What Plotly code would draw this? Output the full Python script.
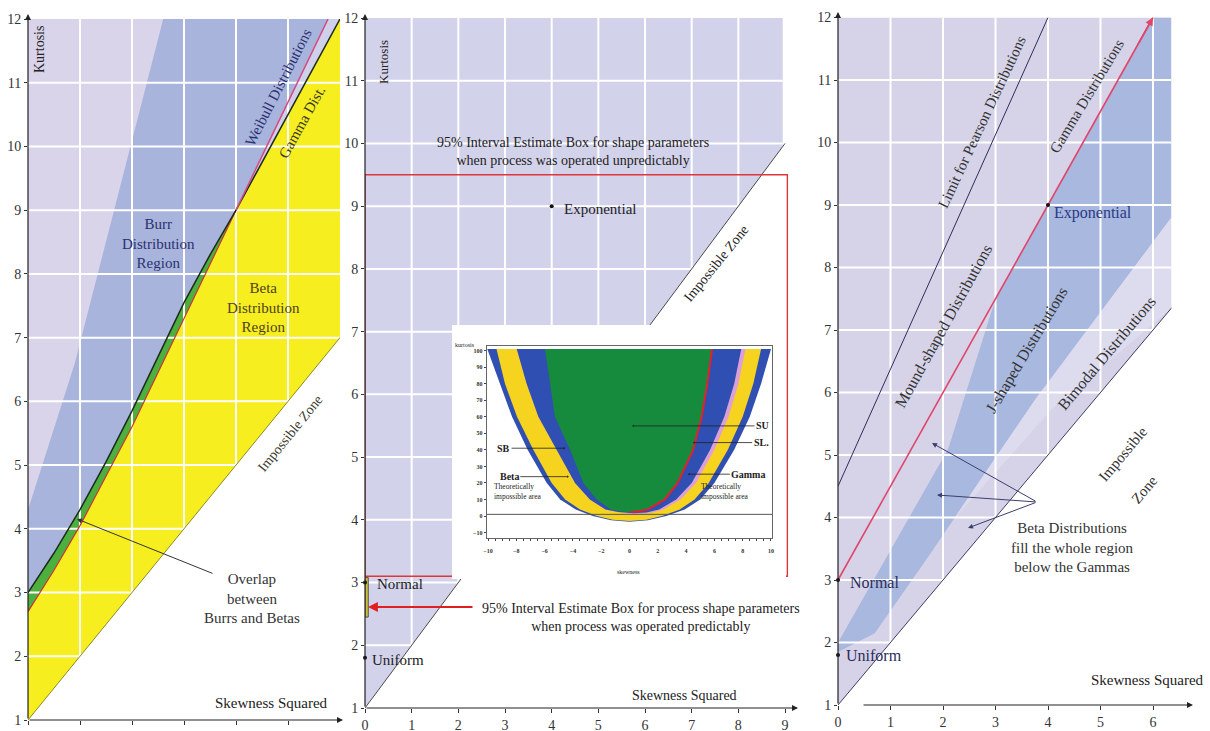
import plotly.graph_objects as go

W, H = 1210, 731
SERIF = "Liberation Serif"


def fx(p):
    return p / W


def fy(p):
    return 1 - p / H


# ----------------------------------------------------------------- data --
kurtosis_ticks = list(range(1, 13))
left_b_ticks = [0, 1, 2, 3, 4, 5]
mid_b_ticks = list(range(0, 10))
right_b_ticks = list(range(0, 7))
grid_k = list(range(2, 12))
left_grid_b = [1, 2, 3, 4, 5]
mid_grid_b = [1, 2, 3, 4, 5, 6, 7, 8]
right_grid_b = [1, 2, 3, 4, 5, 6]

impossible_b = [0, 9.0]
impossible_k = [1, 10.0]
gamma_b = [0, 6]
gamma_k = [3, 12]

# left panel : Burr / Beta regions
burr_edge_b = [0, 0.5, 1.0, 1.5, 2.0, 2.5, 3.0, 3.5, 4.0, 6.0]
burr_edge_k = [3.0, 3.62, 4.3, 5.05, 5.85, 6.7, 7.55, 8.3, 9.0, 12.0]
beta_edge_b = [0, 0.5, 1.0, 2.0, 3.0, 4.0]
beta_edge_k = [2.7, 3.35, 4.05, 5.6, 7.3, 9.0]
weibull_b = [4.0, 5.77]
weibull_k = [9.0, 12.0]
burr_light_b = [0, 0.9, 2.6]
burr_light_k = [4.3, 6.6, 12.0]

# middle panel
mid_bg_b = [0, 8.95, 8.95, 0]
mid_bg_k = [1, 9.95, 12, 12]
unpred_box_b = [0, 9.05]
unpred_box_k = [3.1, 9.5]
pred_box_b = [0, 0.07]
pred_box_k = [2.45, 3.08]
named_b = [0, 0, 4]
named_k = [3, 1.8, 9]

# right panel
right_bg_b = [0, 6.35, 6.35, 0]
right_bg_k = [1, 7.35, 12, 12]
jband_b = [0, 2.1, 3.0, 6.0, 6.35, 6.35, 3.75, 1.66, 0.7, 0]
jband_k = [2.0, 5.1, 7.5, 12, 12, 8.8, 5.88, 3.3, 2.15, 1.85]
strip_b = [6.35, 3.75, 2.2, 4.06, 6.35]
strip_k = [8.8, 5.88, 3.97, 5.72, 7.35]
pearson_b = [0, 4.0]
pearson_k = [4.5, 12]

# inset (skewness vs kurtosis)
inset_k = [101, 80, 60, 40, 20, 10, 4]
outer_L = [-10.05, -9.15, -8.3, -7.2, -5.85, -4.9, -3.8]
yellow_L = [-9.4, -8.8, -7.95, -6.8, -5.5, -4.55, -3.5]
sb_L = [-7.97, -7.27, -6.44, -5.15, -3.85, -2.8, -1.7]
green_L = [-5.97, -5.62, -5.27, -4.2, -3.26, -2.32, -1.3]
outer_R = [10.0, 9.3, 8.5, 7.4, 6.0, 5.0, 3.9]
yellow_R = [9.3, 8.75, 8.0, 6.95, 5.6, 4.6, 3.55]
pink_R = [8.2, 7.7, 7.0, 6.0, 4.7, 3.6, 2.4]
sl_R = [7.9, 7.4, 6.7, 5.7, 4.4, 3.3, 2.1]
red_R = [5.83, 5.5, 5.1, 4.5, 3.4, 2.5, 1.3]
outer_bot_s = [-2.6, -1.3, 0, 1.3, 2.6]
outer_bot_k = [0, -2.6, -3.5, -2.6, 0]
yellow_bot_s = [-2.3, -1.2, 0, 1.2, 2.3]
yellow_bot_k = [0, -2.2, -3.0, -2.2, 0]
pink_bot_s = [-0.8, 0.3, 1.4]
pink_bot_k = [2.2, 1.1, 1.6]
sb_bot_s = [-0.8, 0.3, 1.2]
sb_bot_k = [2.4, 1.7, 2.1]
green_bot_s = [-0.6, 0, 0.6]
green_bot_k = [2.7, 2.4, 2.7]
inset_s_ticks = list(range(-10, 11, 2))
inset_k_ticks = list(range(-10, 101, 10))

# ------------------------------------------------------------- layout geo --
L_DOM_X = [fx(28), fx(340)]
L_DOM_Y = [fy(720), fy(19)]
M_X0, M_PX = 365, 46.67
M_DOM_X = [fx(M_X0), fx(M_X0 + 9.1 * M_PX)]
M_Y1, M_PY = 708, 690 / 11
M_DOM_Y = [fy(708), fy(18)]
R_DOM_X = [fx(838), fx(838 + 6.35 * 52.5)]
R_DOM_Y = [fy(705), fy(17.5)]
I_DOM_X = [fx(486.6), fx(772.4)]
I_DOM_Y = [fy(537.5), fy(345.7)]


def mid_x(p):
    return (p - M_X0) / M_PX


def mid_y(p):
    return 1 + (M_Y1 - p) / M_PY


fig = go.Figure()


def poly(xs, ys, color, xa, ya):
    fig.add_trace(go.Scatter(x=list(xs) + [xs[0]], y=list(ys) + [ys[0]], mode="lines",
                             fill="toself", fillcolor=color, line=dict(width=0, color=color),
                             hoverinfo="skip", xaxis=xa, yaxis=ya))


def line(xs, ys, color, width, xa, ya):
    fig.add_trace(go.Scatter(x=xs, y=ys, mode="lines", line=dict(color=color, width=width),
                             hoverinfo="skip", xaxis=xa, yaxis=ya, cliponaxis=True))


def grid(bv, kv, brange, krange, xa, ya):
    xs, ys = [], []
    for b in bv:
        xs += [b, b, None]
        ys += [krange[0], krange[1], None]
    for k in kv:
        xs += [brange[0], brange[1], None]
        ys += [k, k, None]
    line(xs, ys, "white", 2, xa, ya)


def dots(xs, ys, xa, ya, color="#111", size=4):
    fig.add_trace(go.Scatter(x=xs, y=ys, mode="markers", marker=dict(color=color, size=size),
                             hoverinfo="skip", xaxis=xa, yaxis=ya, cliponaxis=False))


# ---------------- left panel
n4 = burr_edge_b.index(4.0) + 1
poly(burr_edge_b[:n4] + weibull_b[1:] + [0], burr_edge_k[:n4] + weibull_k[1:] + [12], "#a8b4dc", "x", "y")
poly(burr_light_b + [0], burr_light_k + [12], "#d9d4ea", "x", "y")
poly(weibull_b + [gamma_b[1]], weibull_k + [gamma_k[1]], "#cfd0ea", "x", "y")
poly([impossible_b[0], 6.0, gamma_b[1], burr_edge_b[n4 - 1]] + beta_edge_b[::-1][1:],
     [impossible_k[0], 7.0, gamma_k[1], burr_edge_k[n4 - 1]] + beta_edge_k[::-1][1:], "#f6ee1e", "x", "y")
poly(burr_edge_b[:n4] + beta_edge_b[::-1][1:], burr_edge_k[:n4] + beta_edge_k[::-1][1:], "#4caf3e", "x", "y")
grid(left_grid_b, grid_k, [0, 6], [1, 12], "x", "y")
line(impossible_b, impossible_k, "#8c8a2a", 1, "x", "y")
line(beta_edge_b, beta_edge_k, "#c8363a", 1.2, "x", "y")
line(burr_edge_b, burr_edge_k, "#1d2a1d", 1.5, "x", "y")
line(weibull_b, weibull_k, "#d44a80", 1.5, "x", "y")

# ---------------- middle panel
poly(mid_bg_b, mid_bg_k, "#d3d2eb", "x2", "y2")
grid(mid_grid_b, grid_k, [0, 8.95], [1, 12], "x2", "y2")
line(impossible_b, impossible_k, "#4a4a4a", 1, "x2", "y2")
line([unpred_box_b[0], unpred_box_b[1], unpred_box_b[1], unpred_box_b[0], unpred_box_b[0]],
     [unpred_box_k[0], unpred_box_k[0], unpred_box_k[1], unpred_box_k[1], unpred_box_k[0]],
     "#e0353a", 1.4, "x2", "y2")
# white backing card for the inset
bx0, bx1, by0, by1 = mid_x(452), mid_x(786), mid_y(579), mid_y(325)
poly([bx0, bx1, bx1, bx0], [by0, by0, by1, by1], "white", "x2", "y2")
fig.add_trace(go.Scatter(x=[pred_box_b[0], pred_box_b[1], pred_box_b[1], pred_box_b[0], pred_box_b[0]],
                         y=[pred_box_k[0], pred_box_k[0], pred_box_k[1], pred_box_k[1], pred_box_k[0]],
                         mode="lines", fill="toself", fillcolor="#c9c23c",
                         line=dict(color="#555", width=1), hoverinfo="skip",
                         xaxis="x2", yaxis="y2"))
dots(named_b, named_k, "x2", "y2")

# ---------------- right panel
poly(right_bg_b, right_bg_k, "#d6d3e9", "x3", "y3")
poly(jband_b, jband_k, "#a9b8df", "x3", "y3")
poly(strip_b, strip_k, "#dddbee", "x3", "y3")
grid(right_grid_b, grid_k, [0, 6.35], [1, 12], "x3", "y3")
line(impossible_b, impossible_k, "#3e3e60", 1, "x3", "y3")
line(pearson_b, pearson_k, "#2d2d5a", 1, "x3", "y3")
line(gamma_b, gamma_k, "#e0456a", 1.6, "x3", "y3")
dots(named_b, named_k, "x3", "y3")


# ---------------- inset
def u_shape(left, bot_s, bot_k, right, color):
    xs = left + bot_s + right[::-1]
    ys = inset_k + bot_k + inset_k[::-1]
    poly(xs, ys, color, "x4", "y4")


u_shape(outer_L, outer_bot_s, outer_bot_k, outer_R, "#2f4fb2")
u_shape(yellow_L, yellow_bot_s, yellow_bot_k, yellow_R, "#f5d31e")
u_shape(sb_L, pink_bot_s, pink_bot_k, pink_R, "#dc9fd8")
u_shape(sb_L, sb_bot_s, sb_bot_k, sl_R, "#2f4fb2")
u_shape(green_L, green_bot_s, green_bot_k, red_R, "#168b3e")
line(red_R + [0.6, 0.1], inset_k + [2.7, 2.45], "#e3202c", 2, "x4", "y4")
line([-10.1, 10.1], [1, 1], "#555", 1, "x4", "y4")

# ------------------------------------------------------------- axes ------
tickfont = dict(family=SERIF, size=14, color="#333")


def main_x(domain, rng, ticks, anchor):
    return dict(domain=domain, range=rng, anchor=anchor, showgrid=False, zeroline=False,
                showline=False, ticks="outside", ticklen=4, tickcolor="#333",
                tickvals=ticks, ticktext=[str(t) for t in ticks], tickfont=tickfont,
                fixedrange=True, automargin=False)


def main_y(domain, anchor):
    return dict(domain=domain, range=[1, 12], anchor=anchor, showgrid=False, zeroline=False,
                showline=False, ticks="outside", ticklen=3, tickcolor="#333",
                tickvals=kurtosis_ticks, ticktext=[str(t) for t in kurtosis_ticks],
                tickfont=tickfont, fixedrange=True, automargin=False)


small = dict(family=SERIF, size=6, color="#333", weight="bold")

fig.update_layout(
    template="none",
    width=W, height=H, autosize=False, margin=dict(l=0, r=0, t=0, b=0, pad=0),
    paper_bgcolor="white", plot_bgcolor="white", showlegend=False,
    xaxis=main_x(L_DOM_X, [0, 6], left_b_ticks, "y"),
    yaxis=main_y(L_DOM_Y, "x"),
    xaxis2=main_x(M_DOM_X, [0, 9.1], mid_b_ticks, "y2"),
    yaxis2=main_y(M_DOM_Y, "x2"),
    xaxis3=main_x(R_DOM_X, [0, 6.35], right_b_ticks, "y3"),
    yaxis3=main_y(R_DOM_Y, "x3"),
    xaxis4=dict(domain=I_DOM_X, range=[-10.1, 10.1], anchor="y4", showgrid=False,
                zeroline=False, showline=True, mirror=True, linecolor="#666", linewidth=1,
                ticks="outside", ticklen=2, tickcolor="#444", tickvals=inset_s_ticks,
                tickfont=small, ticklabelstandoff=5, automargin=False,
                minor=dict(tickmode="linear", tick0=-10, dtick=0.5, ticks="outside",
                           ticklen=2, tickcolor="#444"),
                fixedrange=True),
    yaxis4=dict(domain=I_DOM_Y, range=[-13, 103], anchor="x4", showgrid=False,
                zeroline=False, showline=True, mirror=True, linecolor="#666", linewidth=1,
                ticks="outside", ticklen=2, tickcolor="#444", tickvals=inset_k_ticks,
                tickfont=small, fixedrange=True, automargin=False),
)

# ------------------------------------------------------------- text -------
ann = []


def txt(x, y, s, size=15, color="#222", angle=0, xanchor="center", align="center"):
    ann.append(dict(xref="paper", yref="paper", x=fx(x), y=fy(y), text=s, showarrow=False,
                    font=dict(family=SERIF, size=size, color=color), textangle=angle,
                    xanchor=xanchor, yanchor="middle", align=align))


def arrow(hx, hy, tx, ty, color="#222", width=1.2, head=2, size=1.0):
    ann.append(dict(xref="paper", yref="paper", x=fx(hx), y=fy(hy), ax=tx - hx, ay=ty - hy,
                    axref="pixel", ayref="pixel", text="", showarrow=True, arrowhead=head,
                    arrowsize=size, arrowwidth=width, arrowcolor=color))


# axes arrows
arrow(28, 14, 28, 720)
arrow(343, 720, 28, 720)
arrow(365, 14, 365, 708)
arrow(798, 708, 365, 708)
arrow(838, 12, 838, 705)
arrow(1193, 705, 862, 705)

# left panel text
txt(40, 50, "Kurtosis", size=14, angle=-90)
txt(158, 243, "Burr<br>Distribution<br>Region", color="#2b3170")
txt(263, 308, "Beta<br>Distribution<br>Region", color="#4e4220")
txt(278, 88, "Weibull Distributions", color="#2b3170", angle=-63)
txt(302, 122, "Gamma Dist.", color="#3a3a2a", angle=-61)
txt(290, 433, "Impossible Zone", size=14, color="#3a3a2a", angle=-51)
txt(252, 598, "Overlap<br>between<br>Burrs and Betas", color="#333")
arrow(77, 519, 214, 574, color="#333", width=1)
txt(271, 703, "Skewness Squared")

# middle panel text
txt(383, 62, "Kurtosis", size=13, angle=-90)
txt(573, 151, "95% Interval Estimate Box for shape parameters<br>when process was operated unpredictably", size=14)
txt(562, 209, "Exponential", xanchor="left")
txt(716, 263, "Impossible Zone", size=14, angle=-51)
txt(375, 584, "Normal", xanchor="left")
txt(370, 660, "Uniform", xanchor="left")
txt(641, 617, "95% Interval Estimate Box for process shape parameters<br>when process was operated predictably", size=14)
arrow(368, 607, 474, 607, color="#e02020", width=2.2, head=2, size=0.9)
txt(684, 695, "Skewness Squared", size=14)

# inset text
txt(465, 345, "kurtosis", size=6)
txt(628, 572, "skewness", size=6)
ann.append(dict(xref="x4", yref="y4", x=-9.7, y=15, text="Theoretically<br>impossible area",
                showarrow=False, xanchor="left", align="left",
                font=dict(family=SERIF, size=7.5, color="#222")))
ann.append(dict(xref="x4", yref="y4", x=4.9, y=15, text="Theoretically<br>impossible area",
                showarrow=False, xanchor="left", align="left",
                font=dict(family=SERIF, size=7.5, color="#222")))
for label, hs, hk, ts in [("SB", -4.55, 41, -8.9), ("Beta", -4.3, 23.8, -8.5),
                          ("SU", 0.2, 54.5, 9.4), ("SL.", 4.5, 44.4, 9.3),
                          ("Gamma", 4.15, 25.3, 8.4)]:
    ann.append(dict(xref="x4", yref="y4", x=hs, y=hk, ax=ts, ay=hk, axref="x4", ayref="y4",
                    text="<b>" + label + "</b>", showarrow=True, arrowhead=1, arrowsize=0.6,
                    arrowwidth=0.8, arrowcolor="#222",
                    font=dict(family=SERIF, size=10, color="#222")))

# right panel text
txt(982, 122, "Limit for Pearson Distributions", size=15, color="#333", angle=-65)
txt(1087, 96, "Gamma Distributions", size=15, color="#333", angle=-59)
txt(1052, 213, "Exponential", size=16, color="#2a3a85", xanchor="left")
txt(944, 326, "Mound-shaped Distributions", size=16, color="#333", angle=-61)
txt(1027, 350, "J-shaped Distributions", size=16, color="#333", angle=-59)
txt(1106, 353, "Bimodal Distributions", size=16, color="#333", angle=-50)
txt(1123, 454, "Impossible", size=15, color="#333", angle=-50)
txt(1144, 490, "Zone", size=15, color="#333", angle=-50)
txt(1072, 547, "Beta Distributions<br>fill the whole region<br>below the Gammas", color="#333")
for hx, hy in [(932, 443), (937, 495), (968, 528)]:
    arrow(hx, hy, 1037, 502, color="#3a3f6e", width=1)
txt(848, 582, "Normal", size=16, color="#2a2d5a", xanchor="left")
txt(844, 655, "Uniform", size=16, color="#2a2d5a", xanchor="left")
txt(1147, 680, "Skewness Squared")
# arrowhead at the top end of the Gamma line
ann.append(dict(xref="x3", yref="y3", x=gamma_b[1], y=gamma_k[1],
                ax=gamma_b[1] - 0.3, ay=gamma_k[1] - 0.45, axref="x3", ayref="y3",
                text="", showarrow=True, arrowhead=2, arrowsize=1, arrowwidth=1.6,
                arrowcolor="#e0456a"))

fig.update_layout(annotations=ann)
fig.write_html("out.html", config={"displayModeBar": False},
               post_script="document.body.style.margin='0px';document.body.style.overflow='hidden';")
